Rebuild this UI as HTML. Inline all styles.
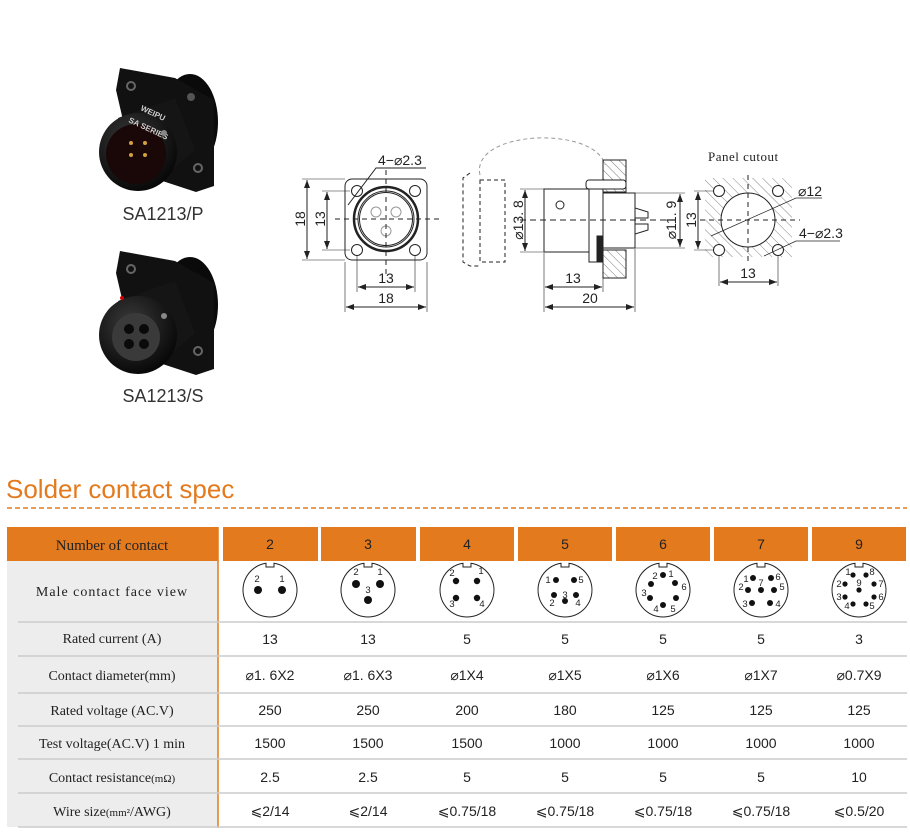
<!DOCTYPE html>
<html><head><meta charset="utf-8"><style>
html,body{margin:0;padding:0;background:#fff}
svg{display:block}
.d{font-family:"Liberation Sans",Arial,sans-serif;font-size:14px;fill:#222}
.s{font-family:"Liberation Serif",serif;fill:#222}
.t{font-family:"Liberation Sans",Arial,sans-serif;font-size:14px;fill:#222;text-anchor:middle}
.p{font-family:"Liberation Sans",Arial,sans-serif;font-size:9.5px;fill:#222;text-anchor:middle}
</style></head><body>
<svg width="910" height="839" viewBox="0 0 910 839" xmlns="http://www.w3.org/2000/svg">
<defs>
<pattern id="h" width="6" height="6" patternUnits="userSpaceOnUse" patternTransform="rotate(-45)">
<line x1="0" y1="0" x2="0" y2="6" stroke="#555" stroke-width="0.8"/></pattern>
<pattern id="h2" width="7" height="7" patternUnits="userSpaceOnUse" patternTransform="rotate(-45)">
<line x1="0" y1="0" x2="0" y2="7" stroke="#888" stroke-width="1"/></pattern>
<marker id="a" markerWidth="8" markerHeight="6" refX="8" refY="3" orient="auto-start-reverse" markerUnits="userSpaceOnUse">
<path d="M0,0 L8,3 L0,6 z" fill="#222"/></marker>
<radialGradient id="g" cx="0.4" cy="0.35" r="0.7"><stop offset="0" stop-color="#3a3a3a"/><stop offset="1" stop-color="#050505"/></radialGradient>
</defs>

<!-- Photos -->
<g id="ph">
<ellipse cx="190" cy="122" rx="28" ry="48" fill="#0a0a0a"/>
<polygon points="120,68 175,78 214,100 214,186 196,192 135,172 116,90" fill="#111"/>
<circle cx="131" cy="86" r="5" fill="#666"/><circle cx="131" cy="86" r="3" fill="#111"/>
<circle cx="198" cy="168" r="5" fill="#666"/><circle cx="198" cy="168" r="3" fill="#111"/>
<circle cx="191" cy="97" r="4" fill="#555"/>
<path d="M118,118 L175,98 L195,150 L150,188 Z" fill="#151515"/>
<circle cx="138" cy="152" r="39" fill="url(#g)"/>
<circle cx="136" cy="154" r="30" fill="#1a0808"/>
<text x="140" y="110" font-family="Liberation Sans" font-size="8" font-weight="bold" fill="#ccc" transform="rotate(25 140 110)">WEIPU</text>
<text x="128" y="122" font-family="Liberation Sans" font-size="8" font-weight="bold" fill="#ccc" transform="rotate(25 128 122)">SA SERIES</text>
<circle cx="164" cy="133" r="3" fill="#888"/>
</g>
<g>
<circle cx="131" cy="143" r="2" fill="#d4a040"/><circle cx="145" cy="143" r="2" fill="#d4a040"/>
<circle cx="131" cy="155" r="2" fill="#d4a040"/><circle cx="145" cy="155" r="2" fill="#d4a040"/>
</g>
<text x="163" y="220" font-family="Liberation Sans" font-size="18" fill="#333" text-anchor="middle">SA1213/P</text>
<g transform="translate(0,183)">
<ellipse cx="190" cy="122" rx="28" ry="48" fill="#0a0a0a"/>
<polygon points="120,68 175,78 214,100 214,186 196,192 135,172 116,90" fill="#111"/>
<circle cx="131" cy="86" r="5" fill="#666"/><circle cx="131" cy="86" r="3" fill="#111"/>
<circle cx="198" cy="168" r="5" fill="#666"/><circle cx="198" cy="168" r="3" fill="#111"/>
<path d="M118,118 L175,98 L195,150 L150,188 Z" fill="#151515"/>
<circle cx="138" cy="152" r="39" fill="url(#g)"/>
<circle cx="136" cy="154" r="24" fill="#3a3a3a"/>
<circle cx="129" cy="146" r="5" fill="#0a0a0a"/><circle cx="144" cy="146" r="5" fill="#0a0a0a"/>
<circle cx="129" cy="161" r="5" fill="#0a0a0a"/><circle cx="144" cy="161" r="5" fill="#0a0a0a"/>
<circle cx="122" cy="115" r="2" fill="#c00"/>
<circle cx="164" cy="133" r="3" fill="#888"/>
</g>
<text x="163" y="402" font-family="Liberation Sans" font-size="18" fill="#333" text-anchor="middle">SA1213/S</text>

<!-- Front view -->
<g fill="none" stroke="#222" stroke-width="1">
<rect x="345" y="179" width="82" height="81" rx="7"/>
<circle cx="386" cy="219" r="32" stroke-width="2.5"/>
<circle cx="386" cy="219" r="28"/>
<circle cx="386" cy="219" r="26.5"/>
<circle cx="357" cy="191" r="5.5"/><circle cx="415" cy="191" r="5.5"/>
<circle cx="357" cy="250" r="5.5"/><circle cx="415" cy="250" r="5.5"/>
<circle cx="376" cy="212" r="5" stroke="#999"/><circle cx="396" cy="212" r="5" stroke="#999"/><circle cx="386" cy="231" r="5" stroke="#999"/>
<line x1="335" y1="219" x2="440" y2="219" stroke-dasharray="5,4"/>
<line x1="386" y1="170" x2="386" y2="275" stroke-dasharray="5,4"/>
<line x1="302" y1="179" x2="345" y2="179" stroke-width="0.6"/><line x1="302" y1="260" x2="345" y2="260" stroke-width="0.6"/>
<line x1="322" y1="191" x2="350" y2="191" stroke-width="0.6"/><line x1="322" y1="250" x2="350" y2="250" stroke-width="0.6"/>
<line x1="307" y1="180" x2="307" y2="259" marker-start="url(#a)" marker-end="url(#a)"/>
<line x1="327" y1="192" x2="327" y2="249" marker-start="url(#a)" marker-end="url(#a)"/>
<line x1="357" y1="256" x2="357" y2="292" stroke-width="0.6"/><line x1="415" y1="256" x2="415" y2="292" stroke-width="0.6"/>
<line x1="345" y1="262" x2="345" y2="312" stroke-width="0.6"/><line x1="427" y1="262" x2="427" y2="312" stroke-width="0.6"/>
<line x1="358" y1="287" x2="414" y2="287" marker-start="url(#a)" marker-end="url(#a)"/>
<line x1="346" y1="307" x2="426" y2="307" marker-start="url(#a)" marker-end="url(#a)"/>
<polyline points="426,168 376,168 348,205"/>
</g>
<text class="d" x="378" y="165">4−⌀2.3</text>
<text class="d" x="300" y="219" text-anchor="middle" transform="rotate(-90 300 219)" dy="5">18</text>
<text class="d" x="320" y="219" text-anchor="middle" transform="rotate(-90 320 219)" dy="5">13</text>
<text class="d" x="386" y="283" text-anchor="middle">13</text>
<text class="d" x="386" y="303" text-anchor="middle">18</text>

<!-- Side view -->
<g fill="none" stroke="#222" stroke-width="1">
<path d="M480,175 C470,130 595,125 605,165" stroke="#999" stroke-dasharray="4,3"/>
<path d="M470,173 L463,178 L463,262 L470,266 L480,266" stroke-dasharray="4,3"/>
<rect x="480" y="180" width="25" height="82" stroke-dasharray="4,3"/>
<rect x="603" y="160" width="23" height="32" fill="url(#h)"/>
<rect x="603" y="250" width="23" height="28" fill="url(#h)"/>
<rect x="544" y="189" width="45" height="63"/>
<circle cx="560" cy="205" r="4"/>
<rect x="589" y="181" width="14" height="81" fill="#fff"/>
<rect x="597" y="236" width="6" height="25" fill="#222"/>
<rect x="586" y="180" width="40" height="9" rx="3" fill="#fff"/>
<rect x="603" y="193" width="32" height="55" fill="#fff"/>
<path d="M635,208 L648,212 L648,218 L635,218 M635,224 L648,224 L648,230 L635,234"/>
<line x1="520" y1="220" x2="680" y2="220" stroke-dasharray="6,4"/>
<line x1="520" y1="189" x2="544" y2="189" stroke-width="0.6"/><line x1="520" y1="252" x2="544" y2="252" stroke-width="0.6"/>
<line x1="525" y1="190" x2="525" y2="251" marker-start="url(#a)" marker-end="url(#a)"/>
<line x1="635" y1="193" x2="685" y2="193" stroke-width="0.6"/><line x1="635" y1="248" x2="685" y2="248" stroke-width="0.6"/>
<line x1="680" y1="194" x2="680" y2="247" marker-start="url(#a)" marker-end="url(#a)"/>
<line x1="544" y1="253" x2="544" y2="312" stroke-width="0.6"/><line x1="603" y1="278" x2="603" y2="292" stroke-width="0.6"/>
<line x1="635" y1="249" x2="635" y2="312" stroke-width="0.6"/>
<line x1="545" y1="287" x2="602" y2="287" marker-start="url(#a)" marker-end="url(#a)"/>
<line x1="545" y1="307" x2="634" y2="307" marker-start="url(#a)" marker-end="url(#a)"/>
</g>
<text class="d" x="518" y="220" text-anchor="middle" transform="rotate(-90 518 220)" dy="5">⌀13. 8</text>
<text class="d" x="671" y="220" text-anchor="middle" transform="rotate(-90 671 220)" dy="5">⌀11. 9</text>
<text class="d" x="573" y="283" text-anchor="middle">13</text>
<text class="d" x="590" y="303" text-anchor="middle">20</text>

<!-- Panel cutout -->
<text class="s" x="708" y="161" font-size="13" letter-spacing="0.5">Panel  cutout</text>
<rect x="705" y="178" width="87" height="79" fill="url(#h2)"/>
<g fill="none" stroke="#222" stroke-width="1">
<circle cx="748" cy="220" r="27" fill="#fff"/>
<circle cx="719" cy="191" r="5.5" fill="#fff"/><circle cx="778" cy="191" r="5.5" fill="#fff"/>
<circle cx="719" cy="250" r="5.5" fill="#fff"/><circle cx="778" cy="250" r="5.5" fill="#fff"/>
<line x1="700" y1="220" x2="800" y2="220" stroke-dasharray="5,4"/>
<line x1="748" y1="175" x2="748" y2="262" stroke-dasharray="5,4"/>
<line x1="694" y1="191" x2="714" y2="191" stroke-width="0.6"/><line x1="694" y1="250" x2="714" y2="250" stroke-width="0.6"/>
<line x1="698" y1="192" x2="698" y2="249" marker-start="url(#a)" marker-end="url(#a)"/>
<line x1="719" y1="256" x2="719" y2="286" stroke-width="0.6"/><line x1="778" y1="256" x2="778" y2="286" stroke-width="0.6"/>
<line x1="720" y1="282" x2="777" y2="282" marker-start="url(#a)" marker-end="url(#a)"/>
<polyline points="822,198 796,198 711,236" stroke-width="0.7"/>
<polyline points="840,241 796,241 764,256" stroke-width="0.7"/>
</g>
<text class="d" x="798" y="196">⌀12</text>
<text class="d" x="799" y="238">4−⌀2.3</text>
<text class="d" x="691" y="220" text-anchor="middle" transform="rotate(-90 691 220)" dy="5">13</text>
<text class="d" x="748" y="278" text-anchor="middle">13</text>

<!-- Title -->
<text x="6" y="498" font-family="Liberation Sans" font-size="26" fill="#e47a1e">Solder contact spec</text>
<line x1="7" y1="508" x2="907" y2="508" stroke="#e47a1e" stroke-width="1.5" stroke-dasharray="5,3"/>

<!-- Table -->
<rect x="7" y="561" width="211" height="266" fill="#ededed"/>
<rect x="7" y="527" width="211" height="34" fill="#e47a1e"/>
<g fill="#e47a1e">
<rect x="223" y="527" width="95" height="34"/><rect x="321" y="527" width="95" height="34"/>
<rect x="420" y="527" width="94" height="34"/><rect x="518" y="527" width="94" height="34"/>
<rect x="616" y="527" width="94" height="34"/><rect x="714" y="527" width="94" height="34"/>
<rect x="812" y="527" width="94" height="34"/>
</g>
<line x1="218" y1="527" x2="218" y2="828" stroke="#e47a1e" stroke-width="1.5"/>
<g stroke="#ccc" stroke-width="1.5">
<line x1="18" y1="622" x2="907" y2="622"/><line x1="18" y1="656" x2="907" y2="656"/>
<line x1="18" y1="693" x2="907" y2="693"/><line x1="18" y1="726" x2="907" y2="726"/>
<line x1="18" y1="759" x2="907" y2="759"/><line x1="18" y1="793" x2="907" y2="793"/>
<line x1="18" y1="827" x2="907" y2="827"/>
</g>
<text class="s" x="112" y="550" font-size="15" text-anchor="middle" fill="#222">Number of contact</text>
<g>
<text class="t" x="270" y="549" font-size="13">2</text><text class="t" x="368" y="549" font-size="13">3</text><text class="t" x="467" y="549" font-size="13">4</text>
<text class="t" x="565" y="549" font-size="13">5</text><text class="t" x="663" y="549" font-size="13">6</text><text class="t" x="761" y="549" font-size="13">7</text><text class="t" x="859" y="549" font-size="13">9</text>
</g>
<g class="s" font-size="14" text-anchor="middle">
<text x="112" y="596" letter-spacing="1">Male  contact  face  view</text>
<text x="112" y="643">Rated current (A)</text>
<text x="112" y="680">Contact diameter(mm)</text>
<text x="112" y="715">Rated voltage (AC.V)</text>
<text x="112" y="748">Test voltage(AC.V) 1 min</text>
<text x="112" y="782">Contact resistance<tspan font-size="11">(mΩ)</tspan></text>
<text x="112" y="816">Wire size<tspan font-size="11">(mm²</tspan>/AWG)</text>
</g>
<g>
<text class="t" x="270" y="644">13</text><text class="t" x="368" y="644">13</text><text class="t" x="467" y="644">5</text><text class="t" x="565" y="644">5</text><text class="t" x="663" y="644">5</text><text class="t" x="761" y="644">5</text><text class="t" x="859" y="644">3</text>
<text class="t" x="270" y="680">⌀1. 6X2</text><text class="t" x="368" y="680">⌀1. 6X3</text><text class="t" x="467" y="680">⌀1X4</text><text class="t" x="565" y="680">⌀1X5</text><text class="t" x="663" y="680">⌀1X6</text><text class="t" x="761" y="680">⌀1X7</text><text class="t" x="859" y="680">⌀0.7X9</text>
<text class="t" x="270" y="715">250</text><text class="t" x="368" y="715">250</text><text class="t" x="467" y="715">200</text><text class="t" x="565" y="715">180</text><text class="t" x="663" y="715">125</text><text class="t" x="761" y="715">125</text><text class="t" x="859" y="715">125</text>
<text class="t" x="270" y="748">1500</text><text class="t" x="368" y="748">1500</text><text class="t" x="467" y="748">1500</text><text class="t" x="565" y="748">1000</text><text class="t" x="663" y="748">1000</text><text class="t" x="761" y="748">1000</text><text class="t" x="859" y="748">1000</text>
<text class="t" x="270" y="782">2.5</text><text class="t" x="368" y="782">2.5</text><text class="t" x="467" y="782">5</text><text class="t" x="565" y="782">5</text><text class="t" x="663" y="782">5</text><text class="t" x="761" y="782">5</text><text class="t" x="859" y="782">10</text>
<text class="t" x="270" y="816">⩽2/14</text><text class="t" x="368" y="816">⩽2/14</text><text class="t" x="467" y="816">⩽0.75/18</text><text class="t" x="565" y="816">⩽0.75/18</text><text class="t" x="663" y="816">⩽0.75/18</text><text class="t" x="761" y="816">⩽0.75/18</text><text class="t" x="859" y="816">⩽0.5/20</text>
</g>

<!-- face views -->
<g fill="#fff" stroke="#222" stroke-width="1">
<path d="M266,563.3 A27,27 0 1 0 274,563.3 L274,567 L266,567 Z"/>
<path d="M364,563.3 A27,27 0 1 0 372,563.3 L372,567 L364,567 Z"/>
<path d="M463,563.3 A27,27 0 1 0 471,563.3 L471,567 L463,567 Z"/>
<path d="M561,563.3 A27,27 0 1 0 569,563.3 L569,567 L561,567 Z"/>
<path d="M659,563.3 A27,27 0 1 0 667,563.3 L667,567 L659,567 Z"/>
<path d="M757,563.3 A27,27 0 1 0 765,563.3 L765,567 L757,567 Z"/>
<path d="M855,563.3 A27,27 0 1 0 863,563.3 L863,567 L855,567 Z"/>
</g>
<g fill="#111">
<circle cx="258" cy="590" r="4"/><circle cx="282" cy="590" r="4"/>
<circle cx="356" cy="584" r="4"/><circle cx="380" cy="584" r="4"/><circle cx="368" cy="600" r="4"/>
<circle cx="456" cy="581" r="3.2"/><circle cx="477" cy="581" r="3.2"/><circle cx="456" cy="598" r="3.2"/><circle cx="477" cy="598" r="3.2"/>
<circle cx="556" cy="580" r="3"/><circle cx="574" cy="580" r="3"/><circle cx="554" cy="595" r="3"/><circle cx="565" cy="601" r="3"/><circle cx="576" cy="595" r="3"/>
<circle cx="663" cy="575" r="3"/><circle cx="675" cy="583" r="3"/><circle cx="651" cy="584" r="3"/><circle cx="650" cy="598" r="3"/><circle cx="676" cy="598" r="3"/><circle cx="663" cy="605" r="3"/>
<circle cx="753" cy="578" r="3"/><circle cx="771" cy="578" r="3"/><circle cx="748" cy="590" r="3"/><circle cx="761" cy="590" r="3"/><circle cx="774" cy="590" r="3"/><circle cx="752" cy="603" r="3"/><circle cx="770" cy="603" r="3"/>
<circle cx="853" cy="575" r="2.6"/><circle cx="866" cy="575" r="2.6"/><circle cx="845" cy="584" r="2.6"/><circle cx="874" cy="584" r="2.6"/><circle cx="859" cy="590" r="2.6"/><circle cx="845" cy="597" r="2.6"/><circle cx="874" cy="597" r="2.6"/><circle cx="853" cy="604" r="2.6"/><circle cx="866" cy="604" r="2.6"/>
</g>
<g>
<text class="p" x="257" y="582" font-size="11">2</text><text class="p" x="282" y="582" font-size="11">1</text>
<text class="p" x="356" y="575" font-size="11">2</text><text class="p" x="380" y="575" font-size="11">1</text><text class="p" x="368" y="593" font-size="11">3</text>
<text class="p" x="452" y="576" font-size="11">2</text><text class="p" x="481" y="574" font-size="11">1</text><text class="p" x="452" y="607" font-size="11">3</text><text class="p" x="482" y="607" font-size="11">4</text>
<text class="p" x="548" y="583" font-size="11">1</text><text class="p" x="581" y="583" font-size="11">5</text><text class="p" x="565" y="598" font-size="11">3</text><text class="p" x="552" y="606" font-size="11">2</text><text class="p" x="578" y="606" font-size="11">4</text>
<text class="p" x="655" y="579" font-size="11">2</text><text class="p" x="671" y="577" font-size="11">1</text><text class="p" x="684" y="590" font-size="11">6</text><text class="p" x="644" y="596" font-size="11">3</text><text class="p" x="656" y="612" font-size="11">4</text><text class="p" x="673" y="612" font-size="11">5</text>
<text class="p" x="746" y="582" font-size="10">1</text><text class="p" x="741" y="590" font-size="11">2</text><text class="p" x="761" y="586" font-size="11">7</text><text class="p" x="778" y="580" font-size="11">6</text><text class="p" x="782" y="590" font-size="11">5</text><text class="p" x="745" y="607" font-size="11">3</text><text class="p" x="778" y="607" font-size="11">4</text>
<text class="p" x="848" y="575">1</text><text class="p" x="872" y="575">8</text><text class="p" x="839" y="587">2</text><text class="p" x="859" y="586">9</text><text class="p" x="881" y="587">7</text><text class="p" x="839" y="600">3</text><text class="p" x="881" y="600">6</text><text class="p" x="847" y="609">4</text><text class="p" x="872" y="609">5</text>
</g>
</svg>
</body></html>
